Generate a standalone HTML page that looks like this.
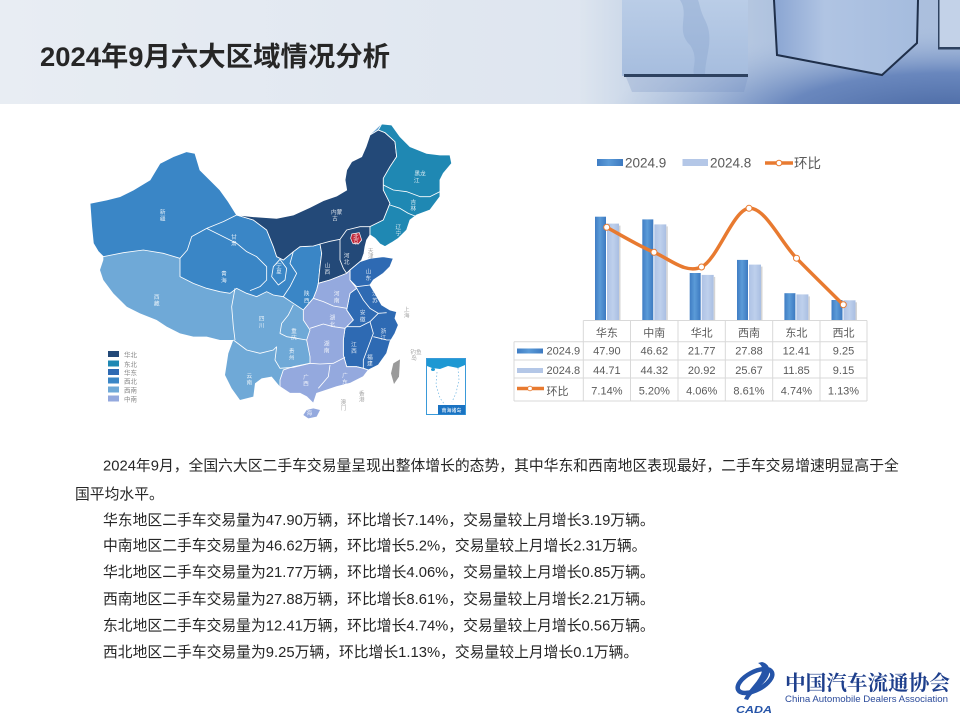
<!DOCTYPE html>
<html><head><meta charset="utf-8">
<style>
html,body{margin:0;padding:0;background:#fff;}
body{width:960px;height:720px;overflow:hidden;}
svg{display:block;}
text{font-family:"Liberation Sans","Noto Sans CJK SC",sans-serif;}
</style></head>
<body>
<svg width="960" height="720" viewBox="0 0 960 720" xmlns="http://www.w3.org/2000/svg">
<defs>
<linearGradient id="hdrL" x1="0" y1="0" x2="1" y2="0">
<stop offset="0" stop-color="#E8EDF3"/><stop offset="0.55" stop-color="#DFE6F0"/><stop offset="1" stop-color="#D2DDEB"/>
</linearGradient>
<linearGradient id="hdrR" x1="0" y1="0" x2="1" y2="0">
<stop offset="0" stop-color="#DDE5EF"/><stop offset="0.15" stop-color="#C9D6E8"/><stop offset="0.5" stop-color="#B0C3DF"/><stop offset="1" stop-color="#AABEDD"/>
</linearGradient>
<radialGradient id="floor" cx="0.97" cy="1.15" r="0.9">
<stop offset="0" stop-color="#45649F" stop-opacity="1"/>
<stop offset="0.5" stop-color="#6281BA" stop-opacity="0.9"/>
<stop offset="1" stop-color="#A9BEDD" stop-opacity="0"/>
</radialGradient>
<linearGradient id="cube1" x1="0" y1="0" x2="0" y2="1">
<stop offset="0" stop-color="#BACDE7"/><stop offset="1" stop-color="#A6BDDE"/>
</linearGradient>
<linearGradient id="cube2" x1="0" y1="0" x2="1" y2="0">
<stop offset="0" stop-color="#8AA5D2"/><stop offset="0.35" stop-color="#B0C4E3"/><stop offset="1" stop-color="#A5BCDE"/>
</linearGradient>
<linearGradient id="barD" x1="0" y1="0" x2="1" y2="0">
<stop offset="0" stop-color="#3F7DC4"/><stop offset="0.45" stop-color="#5B9BD8"/><stop offset="1" stop-color="#3C79C0"/>
</linearGradient>
<linearGradient id="barL" x1="0" y1="0" x2="1" y2="0">
<stop offset="0" stop-color="#AEC2E5"/><stop offset="0.5" stop-color="#BED0EC"/><stop offset="1" stop-color="#A9BEE2"/>
</linearGradient>
</defs>

<!-- HEADER -->
<rect x="0" y="0" width="960" height="104" fill="url(#hdrL)"/>
<rect x="580" y="0" width="380" height="104" fill="url(#hdrR)"/>
<rect x="580" y="0" width="380" height="104" fill="url(#floor)"/>
<!-- cube 1 -->
<polygon points="626,77 748,77 744,92 632,92" fill="#6F8CC0" opacity="0.25"/>
<rect x="622" y="0" width="126" height="76" fill="url(#cube1)"/>
<path d="M680,0 C690,15 675,30 690,45 C700,60 690,70 695,76 L705,76 C705,55 715,40 705,20 C700,10 700,5 698,0 Z" fill="#8FA8D0" opacity="0.45"/>
<rect x="624" y="74" width="124" height="3" fill="#2E4260"/>
<!-- cube 2 -->
<polygon points="774,0 918,0 917,43 882,75 777,55" fill="url(#cube2)"/>
<polyline points="774,0 777,55 882,75 917,43 918,0" fill="none" stroke="#1F2F4A" stroke-width="2"/>
<!-- cube 3 -->
<rect x="938" y="0" width="22" height="49" fill="#C3D2E8"/>
<rect x="938" y="47" width="22" height="2.5" fill="#2E4260"/>
<rect x="938" y="0" width="1.5" height="49" fill="#2E4260"/>

<text x="40" y="66" font-size="27" font-weight="bold" fill="#262626" textLength="350" lengthAdjust="spacingAndGlyphs">2024年9月六大区域情况分析</text>

<!-- MAP -->
<g transform="translate(80,120) scale(0.33333)">
<polygon fill="#6FA9D7" points="30,250 80,240 120,230 160,210 210,180 240,130 280,110 320,95 345,100 360,150 390,180 420,210 445,245 470,285 520,290 590,295 640,285 690,262 730,242 770,228 800,210 795,180 800,150 815,125 845,110 858,80 870,45 905,12 935,15 960,50 990,80 1040,100 1080,105 1110,105 1115,130 1090,160 1080,180 1080,230 1050,270 1010,285 990,300 980,330 955,355 935,368 915,380 900,372 885,355 870,345 860,360 855,380 852,400 845,420 840,425 870,415 910,410 940,415 930,440 910,460 880,480 870,495 885,520 905,555 930,570 950,575 945,595 955,615 945,640 930,665 920,700 895,735 865,750 850,770 810,790 770,800 740,810 710,820 700,850 680,830 660,820 630,820 600,800 575,770 545,775 525,790 520,830 480,840 455,805 435,765 445,700 460,660 420,660 380,650 340,650 300,640 260,620 230,600 180,580 140,560 100,520 70,480 60,450 70,420 70,410 55,395 40,370 35,320"/>
<polygon fill="#3A86C6" stroke="#fff" stroke-width="2.5" points="30,250 80,240 120,230 160,210 210,180 240,130 280,110 320,95 345,100 360,150 390,180 420,210 445,245 470,285 520,300 560,330 580,380 590,410 610,420 640,395 660,380 700,378 720,372 725,400 720,440 715,490 710,510 700,535 670,570 640,550 610,530 580,525 560,515 530,530 500,520 470,505 450,520 420,515 380,505 340,490 300,470 300,415 250,400 190,390 130,398 70,410 55,395 40,370 35,320"/>
<polygon fill="#234978" stroke="#fff" stroke-width="2.5" points="470,285 520,290 590,295 640,285 690,262 730,242 770,228 800,210 795,180 800,150 815,125 845,110 858,80 870,45 895,30 915,38 945,65 950,110 930,140 910,175 910,210 930,250 910,300 870,320 870,345 860,360 855,380 852,400 845,420 840,425 810,450 800,460 750,480 715,490 720,440 725,400 720,372 700,378 660,380 640,395 610,420 590,410 580,380 560,330 520,300"/>
<polygon fill="#1F88B3" stroke="#fff" stroke-width="2.5" points="895,30 905,12 935,15 960,50 990,80 1040,100 1080,105 1110,105 1115,130 1090,160 1080,180 1080,230 1050,270 1010,285 990,300 980,330 955,355 935,368 915,380 900,372 885,355 870,345 870,320 910,300 930,250 910,210 910,175 930,140 950,110 945,65 915,38"/>
<polygon fill="#2E6AB3" stroke="#fff" stroke-width="2.5" points="810,450 840,425 870,415 910,410 940,415 930,440 910,460 880,480 870,495 885,520 905,555 930,570 950,575 945,595 955,615 945,640 930,665 920,700 895,735 865,750 850,745 830,740 800,740 790,705 790,660 795,625 820,600 800,570 810,520 830,505 810,480"/>
<polygon fill="#94A9DE" stroke="#fff" stroke-width="2.5" points="715,490 750,480 800,460 810,450 810,480 830,505 810,520 800,570 820,600 795,625 790,660 790,705 800,740 830,740 850,745 865,750 850,770 810,790 770,800 740,810 710,820 700,850 680,830 660,820 630,820 600,800 600,780 610,750 640,740 690,730 690,710 680,660 690,630 670,600 670,570 700,535 710,510"/>
<polygon fill="#94A9DE" points="680,870 700,865 720,870 710,890 685,895 670,885"/>
<polygon fill="#C0283A" stroke="#fff" stroke-width="2" points="815,342 838,338 845,360 835,372 818,370 812,355"/>
<polygon fill="#9A9A9A" points="940,730 960,718 957,770 942,792 933,760"/>
<g fill="none" stroke="#fff" stroke-width="2.5" stroke-linejoin="round">
<path d="M470,285 L430,305 L380,325 L335,350 L322,390 L300,415"/>
<path d="M380,325 L420,345 L470,370 L500,395 L530,410 L560,440 L560,480 L540,500 L510,512"/>
<path d="M600,418 L620,445 L615,480 L595,495 L575,470 L580,440 Z"/>
<path d="M640,395 L630,430 L650,460 L630,500 L610,530"/>
<path d="M780,358 L780,420 L790,445 L800,460"/>
<path d="M720,372 L750,364 L780,358 L800,330 L840,320 L870,320"/>
<path d="M910,195 L940,210 L980,215 L1020,230 L1050,230 L1080,215"/>
<path d="M930,255 L960,265 L985,280 L1010,290"/>
<path d="M810,480 L830,500 L870,495"/>
<path d="M830,505 L850,540 L870,565 L895,580 L920,578"/>
<path d="M800,620 L840,620 L870,605 L895,580"/>
<path d="M870,605 L880,640 L865,680 L850,720 L850,745"/>
<path d="M880,650 L920,660 L935,660"/>
<path d="M700,535 L730,545 L760,558 L800,565"/>
<path d="M690,625 L730,612 L760,620 L795,625"/>
<path d="M690,730 L720,732 L760,730 L795,712"/>
<path d="M750,735 L745,770 L715,805"/>
<path d="M465,505 L455,560 L460,620 L465,660"/>
<path d="M460,660 L500,690 L540,700 L580,690 L590,680"/>
<path d="M640,555 L625,585 L605,610 L600,640 L620,650 L650,655 L680,660"/>
<path d="M590,680 L585,720 L600,745 L640,742 L690,730"/>
</g>
<g font-size="17" fill="#fff" fill-opacity="0.85" text-anchor="middle">
<text x="248" y="282">新</text><text x="248" y="302">疆</text>
<text x="230" y="537">西</text><text x="230" y="557">藏</text>
<text x="432" y="467">青</text><text x="432" y="487">海</text>
<text x="462" y="357">甘</text><text x="462" y="377">肃</text>
<text x="597" y="442">宁</text><text x="597" y="460">夏</text>
<text x="770" y="282">内蒙</text><text x="765" y="302">古</text>
<text x="1020" y="167">黑龙</text><text x="1010" y="187">江</text>
<text x="1000" y="252">吉</text><text x="1000" y="272">林</text>
<text x="955" y="327">辽</text><text x="955" y="347">宁</text>
<text x="828" y="356">北</text><text x="828" y="372">京</text>
<text x="800" y="412">河</text><text x="800" y="432">北</text>
<text x="742" y="442">山</text><text x="742" y="462">西</text>
<text x="865" y="460">山</text><text x="865" y="480">东</text>
<text x="680" y="527">陕</text><text x="680" y="547">西</text>
<text x="770" y="527">河</text><text x="770" y="547">南</text>
<text x="885" y="527">江</text><text x="885" y="547">苏</text>
<text x="848" y="584">安</text><text x="848" y="604">徽</text>
<text x="757" y="599">湖</text><text x="757" y="619">北</text>
<text x="910" y="639">浙</text><text x="910" y="659">江</text>
<text x="822" y="679">江</text><text x="822" y="699">西</text>
<text x="740" y="677">湖</text><text x="740" y="697">南</text>
<text x="870" y="717">福</text><text x="870" y="737">建</text>
<text x="545" y="602">四</text><text x="545" y="622">川</text>
<text x="642" y="639">重</text><text x="642" y="659">庆</text>
<text x="635" y="699">贵</text><text x="635" y="719">州</text>
<text x="508" y="774">云</text><text x="508" y="794">南</text>
<text x="678" y="777">广</text><text x="678" y="797">西</text>
<text x="795" y="772">广</text><text x="795" y="792">东</text>
<text x="688" y="885">海</text>
</g>
<g font-size="17" fill="#A8A8A8" text-anchor="middle">
<text x="872" y="397">天</text><text x="872" y="414">津</text>
<text x="980" y="574">上</text><text x="980" y="592">海</text>
<text x="845" y="827">香</text><text x="845" y="845">港</text>
<text x="790" y="852">澳</text><text x="790" y="870">门</text>
<text x="1008" y="702">钓鱼</text><text x="1002" y="720">岛</text>
</g>
</g>
<!-- South China Sea inset -->
<rect x="426.5" y="358.5" width="39" height="56" fill="#fff" stroke="#3A9AD9" stroke-width="1"/>
<path d="M427,359 L465,359 L465,365 L458,368 L448,366 L440,369 L432,368 L427,366 Z" fill="#1E98D3"/>
<ellipse cx="433" cy="369.5" rx="2" ry="1.5" fill="#1E98D3"/>
<g fill="none" stroke="#7FBDE6" stroke-width="0.8" stroke-dasharray="1.5,2">
<path d="M437,372 L436,385 L440,398 L445,405"/>
<path d="M458,368 L459,380 L456,393 L452,402"/>
</g>
<rect x="438" y="405" width="27" height="9.5" fill="#1A73C2"/>
<text x="451.5" y="412" font-size="5" fill="#fff" text-anchor="middle">南海诸岛</text>

<!-- map legend -->
<rect x="108" y="351" width="11" height="6" fill="#234978"/>
<rect x="108" y="360.5" width="11" height="6" fill="#1F88B3"/>
<rect x="108" y="369" width="11" height="6" fill="#2E6AB3"/>
<rect x="108" y="377.5" width="11" height="6" fill="#3A86C6"/>
<rect x="108" y="386.5" width="11" height="6" fill="#6FA9D7"/>
<rect x="108" y="395.5" width="11" height="6" fill="#94A9DE"/>
<g font-size="6.5" fill="#888">
<text x="124" y="357">华北</text><text x="124" y="366.5">东北</text><text x="124" y="375">华东</text>
<text x="124" y="383.5">西北</text><text x="124" y="392.5">西南</text><text x="124" y="401.5">中南</text>
</g>

<!-- CHART legend -->
<rect x="597" y="159" width="26" height="7" fill="url(#barD)"/>
<text x="625" y="167.5" font-size="13.5" fill="#595959">2024.9</text>
<rect x="682.5" y="159" width="25.5" height="7" fill="#B4C7E7"/>
<text x="710" y="167.5" font-size="13.5" fill="#595959">2024.8</text>
<line x1="765" y1="163" x2="793" y2="163" stroke="#E87A30" stroke-width="3.5"/>
<circle cx="779" cy="163" r="2.8" fill="#fff" stroke="#E87A30" stroke-width="1"/>
<text x="794" y="168" font-size="13.5" fill="#595959">环比</text>

<!-- bars -->
<g>
<rect x="595" y="216.7" width="11" height="103.3" fill="url(#barD)"/>
<rect x="607" y="223.6" width="12" height="96.4" fill="url(#barL)"/>
<rect x="619" y="225.6" width="1.5" height="94.4" fill="#D4D4D4"/>
<rect x="642.3" y="219.4" width="11" height="100.6" fill="url(#barD)"/>
<rect x="654.3" y="224.4" width="12" height="95.6" fill="url(#barL)"/>
<rect x="666.3" y="226.4" width="1.5" height="93.6" fill="#D4D4D4"/>
<rect x="689.7" y="273" width="11" height="47" fill="url(#barD)"/>
<rect x="701.7" y="274.9" width="12" height="45.1" fill="url(#barL)"/>
<rect x="713.7" y="276.9" width="1.5" height="43.1" fill="#D4D4D4"/>
<rect x="737" y="259.9" width="11" height="60.1" fill="url(#barD)"/>
<rect x="749" y="264.6" width="12" height="55.4" fill="url(#barL)"/>
<rect x="761" y="266.6" width="1.5" height="53.4" fill="#D4D4D4"/>
<rect x="784.4" y="293.2" width="11" height="26.8" fill="url(#barD)"/>
<rect x="796.4" y="294.4" width="12" height="25.6" fill="url(#barL)"/>
<rect x="808.4" y="296.4" width="1.5" height="23.6" fill="#D4D4D4"/>
<rect x="831.5" y="300" width="11" height="20" fill="url(#barD)"/>
<rect x="843.5" y="300.3" width="12" height="19.7" fill="url(#barL)"/>
<rect x="855.5" y="302.3" width="1.5" height="17.7" fill="#D4D4D4"/>
</g>
<!-- line -->
<path d="M606.7,227.3 C614.6,231.5 638.2,245.7 654,252.3 C669.8,258.9 685.7,274.3 701.5,267 C717.3,259.7 733.2,209.8 749,208.3 C764.8,206.8 780.8,242.1 796.5,258.2 C812.2,274.3 835.5,297 843.3,304.7" fill="none" stroke="#E87A30" stroke-width="3.5" stroke-linecap="round"/>
<g fill="#fff" stroke="#E87A30" stroke-width="1">
<circle cx="606.7" cy="227.3" r="3"/><circle cx="654" cy="252.3" r="3"/><circle cx="701.5" cy="267" r="3"/>
<circle cx="749" cy="208.3" r="3"/><circle cx="796.5" cy="258.2" r="3"/><circle cx="843.3" cy="304.7" r="3"/>
</g>

<!-- table -->
<g stroke="#D9D9D9" stroke-width="1" fill="none">
<line x1="583.3" y1="320.5" x2="867" y2="320.5"/>
<line x1="514" y1="341.7" x2="867" y2="341.7"/>
<line x1="514" y1="360" x2="867" y2="360"/>
<line x1="514" y1="378" x2="867" y2="378"/>
<line x1="514" y1="401" x2="867" y2="401"/>
<line x1="514" y1="341.7" x2="514" y2="401"/>
<line x1="583.3" y1="320.5" x2="583.3" y2="401"/>
<line x1="630.5" y1="320.5" x2="630.5" y2="401"/>
<line x1="678" y1="320.5" x2="678" y2="401"/>
<line x1="725.3" y1="320.5" x2="725.3" y2="401"/>
<line x1="772.7" y1="320.5" x2="772.7" y2="401"/>
<line x1="820" y1="320.5" x2="820" y2="401"/>
<line x1="867" y1="320.5" x2="867" y2="401"/>
</g>
<rect x="517" y="348.5" width="26" height="5" fill="url(#barD)"/>
<rect x="517" y="368" width="26" height="5" fill="#B4C7E7"/>
<line x1="517" y1="388.5" x2="544" y2="388.5" stroke="#E87A30" stroke-width="3.5"/>
<circle cx="530" cy="388.5" r="2.3" fill="#fff" stroke="#E87A30" stroke-width="0.8"/>
<g font-size="11" fill="#595959">
<text x="546.5" y="354.5">2024.9</text>
<text x="546.5" y="374">2024.8</text>
<text x="546.5" y="395">环比</text>
</g>
<g font-size="11" fill="#595959" text-anchor="middle">
<text x="606.9" y="336.5">华东</text><text x="654.3" y="336.5">中南</text><text x="701.7" y="336.5">华北</text>
<text x="749" y="336.5">西南</text><text x="796.4" y="336.5">东北</text><text x="843.5" y="336.5">西北</text>
<text x="606.9" y="354.5">47.90</text><text x="654.3" y="354.5">46.62</text><text x="701.7" y="354.5">21.77</text>
<text x="749" y="354.5">27.88</text><text x="796.4" y="354.5">12.41</text><text x="843.5" y="354.5">9.25</text>
<text x="606.9" y="374">44.71</text><text x="654.3" y="374">44.32</text><text x="701.7" y="374">20.92</text>
<text x="749" y="374">25.67</text><text x="796.4" y="374">11.85</text><text x="843.5" y="374">9.15</text>
<text x="606.9" y="394.5">7.14%</text><text x="654.3" y="394.5">5.20%</text><text x="701.7" y="394.5">4.06%</text>
<text x="749" y="394.5">8.61%</text><text x="796.4" y="394.5">4.74%</text><text x="843.5" y="394.5">1.13%</text>
</g>

<!-- body text -->
<g font-size="14.8" fill="#262626">
<text x="103" y="470.5">2024年9月，全国六大区二手车交易量呈现出整体增长的态势，其中华东和西南地区表现最好，二手车交易增速明显高于全</text>
<text x="75" y="498.8">国平均水平。</text>
<text x="103" y="524.8">华东地区二手车交易量为47.90万辆，环比增长7.14%，交易量较上月增长3.19万辆。</text>
<text x="103" y="550.5">中南地区二手车交易量为46.62万辆，环比增长5.2%，交易量较上月增长2.31万辆。</text>
<text x="103" y="577.2">华北地区二手车交易量为21.77万辆，环比增长4.06%，交易量较上月增长0.85万辆。</text>
<text x="103" y="603.8">西南地区二手车交易量为27.88万辆，环比增长8.61%，交易量较上月增长2.21万辆。</text>
<text x="103" y="630.5">东北地区二手车交易量为12.41万辆，环比增长4.74%，交易量较上月增长0.56万辆。</text>
<text x="103" y="657.2">西北地区二手车交易量为9.25万辆，环比增长1.13%，交易量较上月增长0.1万辆。</text>
</g>

<!-- logo -->
<g>
<ellipse cx="755" cy="681" rx="19" ry="9" transform="rotate(-28 755 681)" fill="none" stroke="#2554A8" stroke-width="4.5"/>
<path d="M762,662 C770,664 772,672 766,680 C760,688 752,692 748,700 L744,699 C748,690 756,684 760,676 C764,669 762,665 758,663 Z" fill="#2554A8"/>
<text x="736" y="713" font-size="10" font-weight="bold" font-style="italic" fill="#2554A8" textLength="36" lengthAdjust="spacingAndGlyphs">CADA</text>
<text x="785" y="690" font-size="20.5" font-weight="bold" fill="#1E3F8C" textLength="165" lengthAdjust="spacingAndGlyphs" style="font-family:'Liberation Serif','Noto Serif CJK SC',serif">中国汽车流通协会</text>
<text x="785" y="702" font-size="9.3" fill="#2A4A9A" textLength="163" lengthAdjust="spacingAndGlyphs">China Automobile Dealers Association</text>
</g>
</svg>
</body></html>
